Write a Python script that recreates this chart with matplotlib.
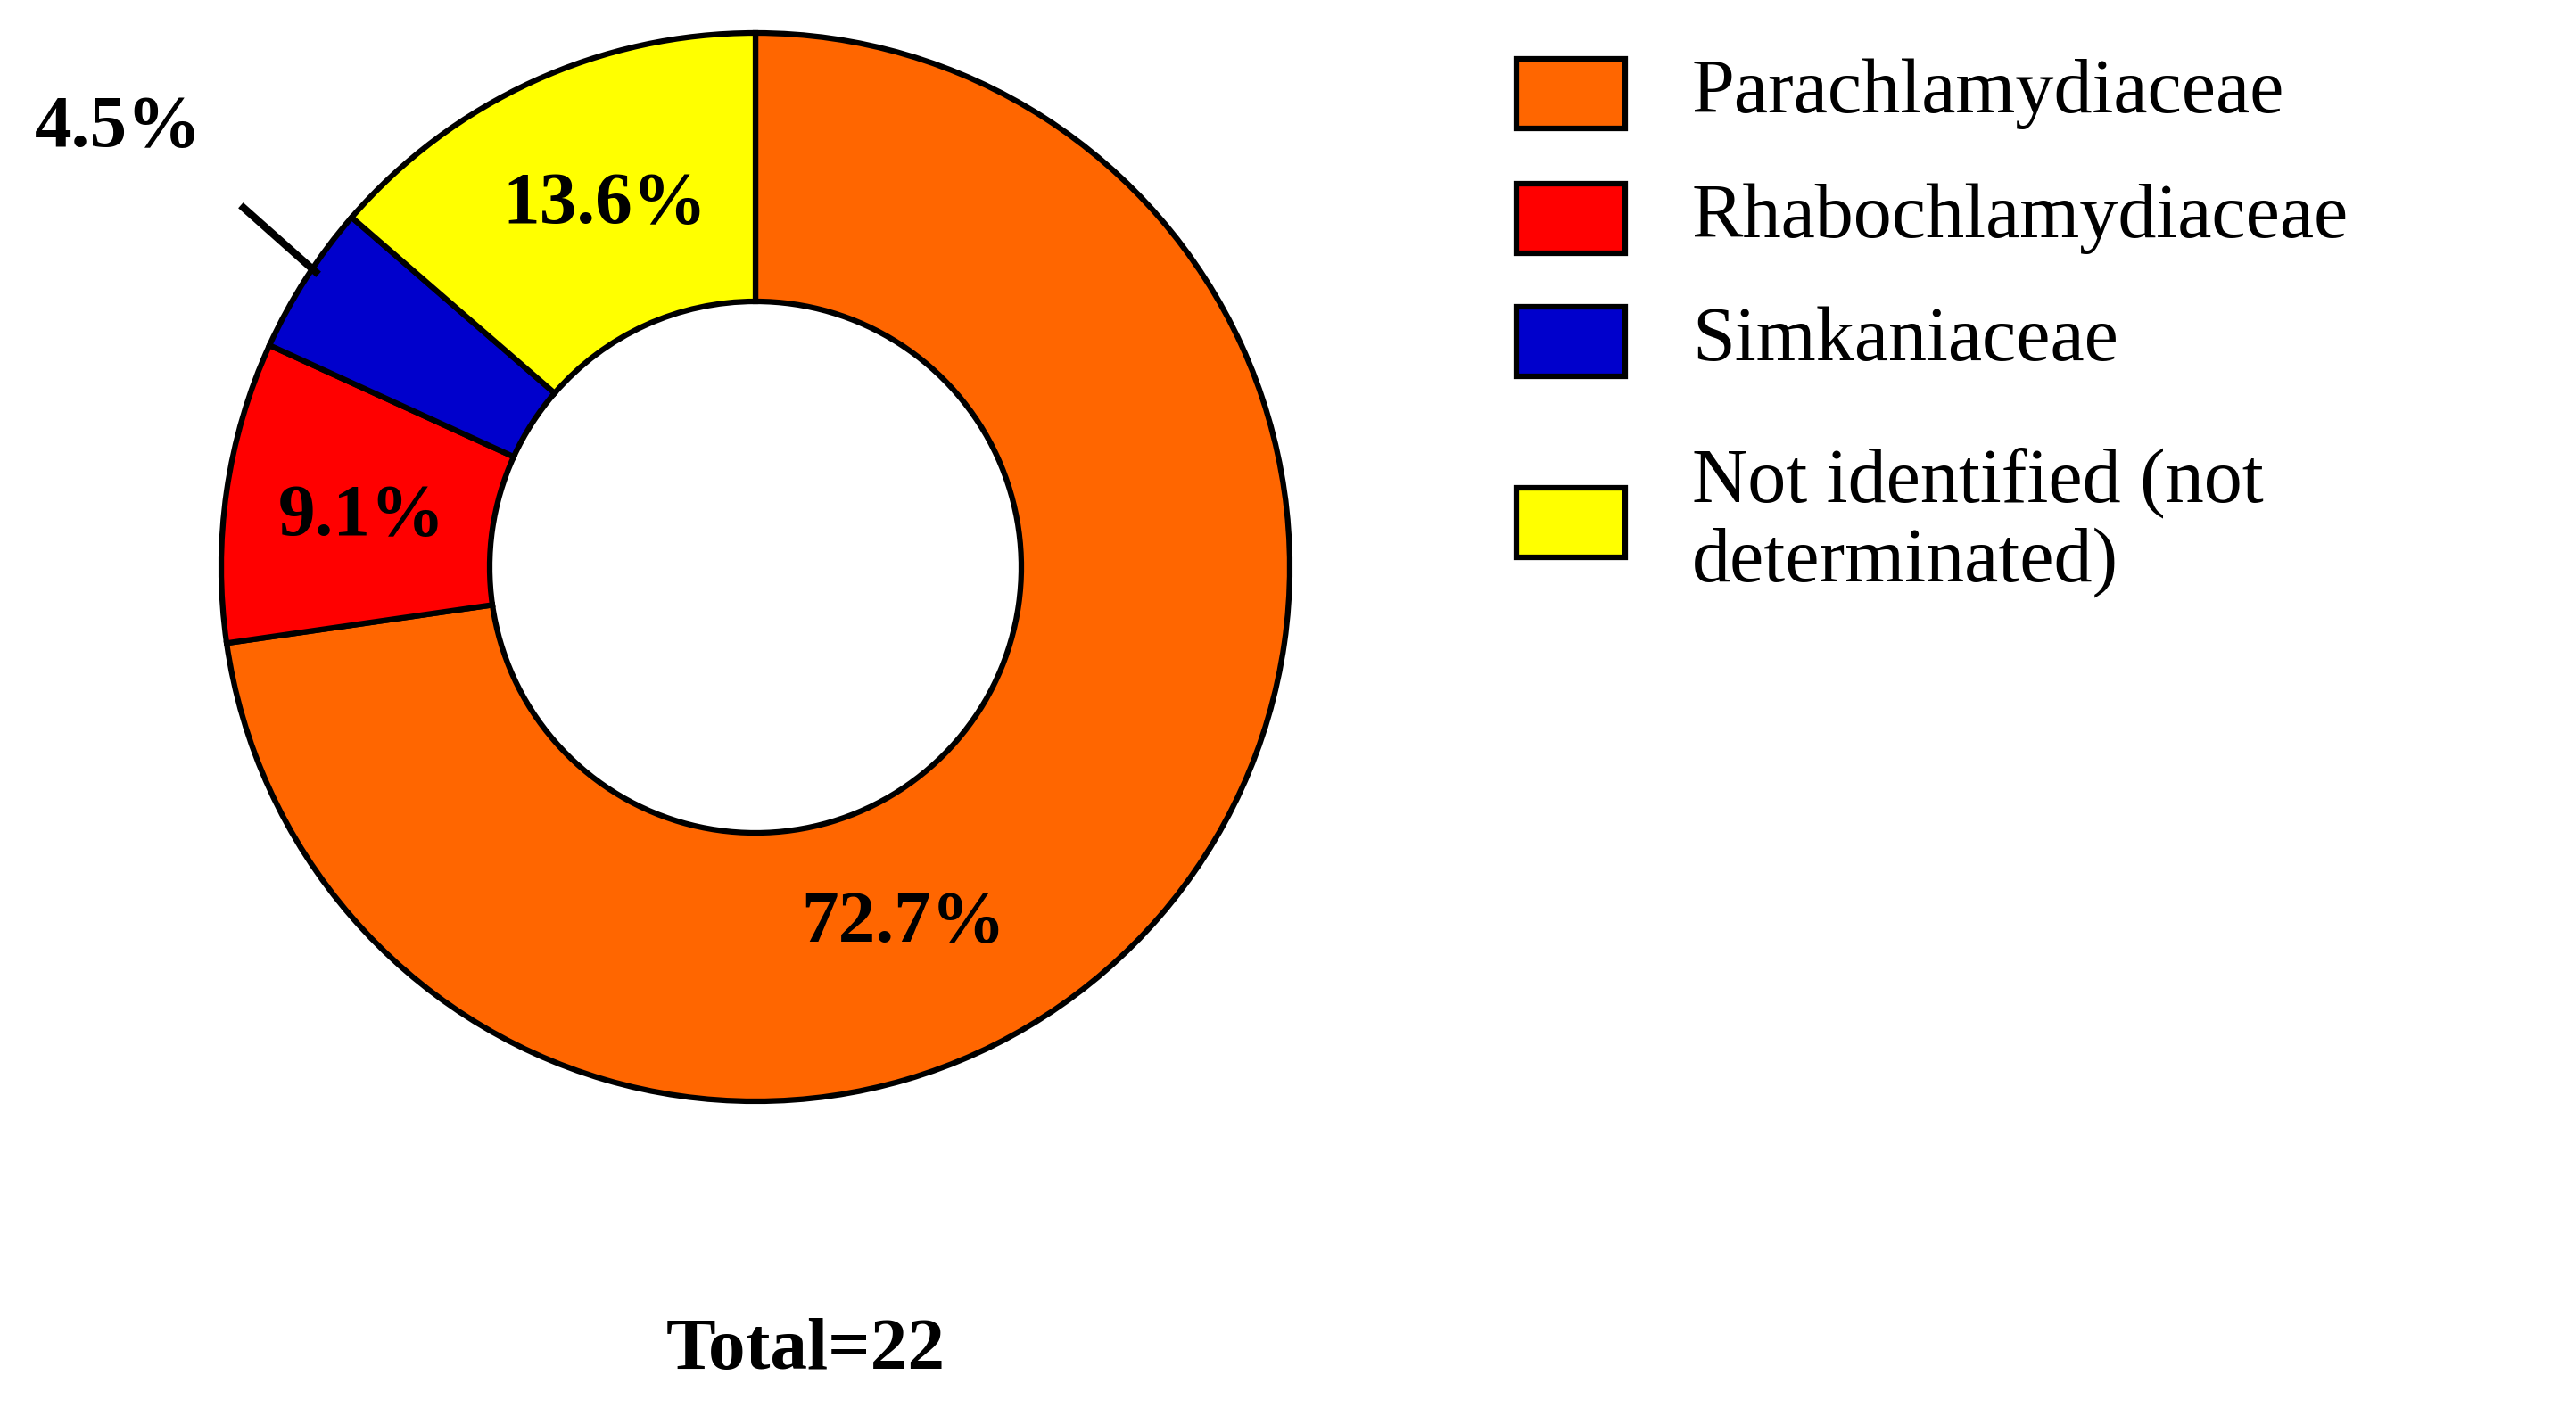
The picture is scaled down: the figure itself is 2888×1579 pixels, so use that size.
import matplotlib.pyplot as plt
from matplotlib.patches import Rectangle

plt.rcParams["font.family"] = ["Liberation Serif", "DejaVu Serif"]

categories = ["Parachlamydiaceae", "Rhabochlamydiaceae", "Simkaniaceae",
              "Not identified (not\ndeterminated)"]
counts = [16, 2, 1, 3]
pct_labels = ["72.7%", "9.1%", "4.5%", "13.6%"]
colors = ["#FF6600", "#FF0000", "#0000CC", "#FFFF00"]
total = sum(counts)

W, H = 2888, 1579
fig = plt.figure(figsize=(W / 100, H / 100), dpi=100)
ax = fig.add_axes([0, 0, 1, 1])
ax.set_xlim(0, W)
ax.set_ylim(0, H)
ax.set_aspect("equal")
ax.axis("off")

cx, cy, r = 847, 943, 599
ax.pie(counts, colors=colors, startangle=90, counterclock=False,
       center=(cx, cy), radius=r, frame=True,
       wedgeprops=dict(width=301, edgecolor="black", linewidth=4.5))
ax.set_xlim(0, W)
ax.set_ylim(0, H)
ax.axis("off")

label_pos = [(1013, 543), (405, 999), (133, 1435), (678, 1349)]
for (x, y), t in zip(label_pos, pct_labels):
    ax.text(x, y, t, ha="center", va="center", fontsize=60, fontweight="bold")
ax.plot([273, 354], [1346, 1274], color="black", lw=6)

ax.text(903, 64, f"Total={total}", ha="center", va="center",
        fontsize=60, fontweight="bold")

# legend
leg_y = [1474, 1334, 1196, 993]
for y, c, lab in zip(leg_y, colors, categories):
    ax.add_patch(Rectangle((1700, y - 39), 122, 78, facecolor=c,
                           edgecolor="black", linewidth=4.5))
    ax.text(1897, y, lab, ha="left", va="center", fontsize=62,
            linespacing=1.15)

fig.savefig("out.png", dpi=100)
